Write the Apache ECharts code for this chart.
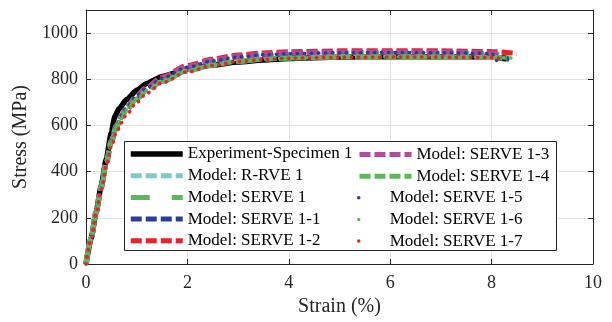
<!DOCTYPE html>
<html>
<head>
<meta charset="utf-8">
<script src="https://cdn.jsdelivr.net/npm/echarts@6/dist/echarts.min.js"></script>
<style>html,body{margin:0;padding:0;background:#fff}#c{width:612px;height:322px}</style>
</head>
<body>
<div id="c"></div>
<script>
// ---- data (strain in %, stress in MPa) ----
const xTicks = [0, 2, 4, 6, 8, 10];
const yTicks = [0, 200, 400, 600, 800, 1000];

const expStrain = [0, 0.1, 0.2, 0.3, 0.4, 0.5, 0.57, 0.65, 0.8, 1.0, 1.2, 1.5, 2.0, 2.5, 3.0, 3.5, 4.0, 5.0, 6.0, 7.0, 8.0, 8.3];
const expStress = [0, 110, 225, 340, 455, 570, 640, 672, 712, 752, 782, 812, 843, 862, 875, 884, 890, 896, 898, 898, 896, 888];

const modelStrain = [0, 0.1, 0.2, 0.3, 0.4, 0.5, 0.6, 0.7, 0.8, 1.0, 1.2, 1.5, 2.0, 2.5, 3.0, 3.5, 4.0, 5.0, 6.0, 7.0, 8.0];
const rrve1    = [0, 112, 224, 335, 440, 535, 600, 642, 676, 725, 760, 800, 846, 873, 890, 900, 906, 911, 912, 911, 908];
const serve1   = [0, 112, 224, 335, 440, 532, 595, 636, 668, 715, 750, 790, 836, 862, 878, 887, 892, 896, 897, 896, 894];
const serve1_1 = [0, 112, 224, 335, 440, 535, 600, 643, 678, 728, 764, 805, 852, 880, 897, 906, 911, 915, 916, 915, 912];
const serve1_2 = [0, 110, 220, 330, 432, 525, 590, 635, 672, 726, 765, 810, 860, 888, 905, 914, 919, 923, 924, 923, 920];
const serve1_3 = [0, 112, 224, 335, 440, 535, 600, 643, 679, 730, 767, 808, 855, 883, 900, 909, 914, 917, 918, 917, 914];
const serve1_4 = [0, 112, 224, 335, 440, 532, 595, 636, 668, 715, 750, 790, 836, 862, 878, 887, 892, 897, 898, 897, 895];
const serve1_5 = [0, 112, 224, 335, 440, 535, 600, 643, 678, 728, 764, 805, 852, 880, 897, 906, 911, 915, 916, 915, 912];
const serve1_6 = [0, 112, 224, 335, 440, 532, 595, 636, 668, 715, 750, 790, 836, 862, 878, 887, 892, 896, 897, 896, 894];
const serve1_7 = [0, 108, 216, 322, 425, 510, 570, 612, 648, 700, 740, 785, 832, 860, 877, 886, 891, 895, 896, 896, 894];
// final points of each model curve (strain, stress)
const modelEndStrain = [8.35, 8.4, 8.35, 8.5, 8.2, 8.3, 8.1, 8.5, 8.25];
const modelEndStress = [898, 890, 885, 912, 905, 892, 882, 892, 888];

const names = ['Experiment-Specimen 1', 'Model: R-RVE 1', 'Model: SERVE 1', 'Model: SERVE 1-1', 'Model: SERVE 1-2',
  'Model: SERVE 1-3', 'Model: SERVE 1-4', 'Model: SERVE 1-5', 'Model: SERVE 1-6', 'Model: SERVE 1-7'];
const modelStress = [rrve1, serve1, serve1_1, serve1_2, serve1_3, serve1_4, serve1_5, serve1_6, serve1_7];

// ---- styles ----
const colors = ['#000000', '#7ccaca', '#5cb85a', '#283f99', '#e82228', '#b04c9c', '#5cb85a', '#283f99', '#5cb85a', '#e82228'];
const lineTypes = ['solid', [11, 4], [19, 22], [11, 4], [11, 4], [11, 4], [11, 4], [0.5, 6.5], [0.5, 6.5], [0.5, 6.5]];
const widths = [5.5, 5, 5, 5, 5, 5, 5, 3.5, 3.5, 3.5];
const FONT = '"Liberation Serif", "Times New Roman", serif';

function pairs(xs, ys) { return xs.map((x, i) => [x, ys[i]]); }

const series = [];
series.push({
  name: names[0], type: 'line', data: pairs(expStrain, expStress),
  symbol: 'none', smooth: 0.2, smoothMonotone: 'x',
  lineStyle: { color: colors[0], width: widths[0], type: lineTypes[0] },
  itemStyle: { color: colors[0] }
});
modelStress.forEach((ys, k) => {
  const i = k + 1;
  const d = pairs(modelStrain, ys);
  d.push([modelEndStrain[k], modelEndStress[k]]);
  series.push({
    name: names[i], type: 'line', data: d, symbol: 'none', smooth: 0.3, smoothMonotone: 'x',
    lineStyle: { color: colors[i], width: widths[i], type: lineTypes[i], cap: i >= 7 ? 'round' : 'butt' },
    itemStyle: { color: colors[i] }
  });
});

const legendText = { fontFamily: FONT, fontSize: 17, color: '#000' };
const axisCol = '#262626';

const option = {
  animation: false,
  backgroundColor: '#fff',
  grid: { left: 86, right: 19, top: 10, bottom: 58, containLabel: false },
  xAxis: [{
    type: 'value', min: 0, max: 10, interval: 2,
    name: 'Strain (%)', nameLocation: 'middle', nameGap: 30,
    nameTextStyle: { fontFamily: FONT, fontSize: 20, color: axisCol },
    axisLine: { show: true, onZero: false, lineStyle: { color: axisCol, width: 1 } },
    axisTick: { show: true, inside: true, length: 5, lineStyle: { color: axisCol } },
    axisLabel: { fontFamily: FONT, fontSize: 18, color: axisCol, margin: 10,
      formatter: v => xTicks.indexOf(v) >= 0 ? String(v) : '' },
    splitLine: { show: true, lineStyle: { color: '#e3e3e3', width: 1 } }
  }, {
    type: 'value', min: 0, max: 10, interval: 2, position: 'top',
    axisLine: { show: true, onZero: false, lineStyle: { color: axisCol, width: 1 } },
    axisTick: { show: true, inside: true, length: 5, lineStyle: { color: axisCol } },
    axisLabel: { show: false }, splitLine: { show: false }
  }],
  yAxis: [{
    type: 'value', min: 0, max: 1100, interval: 200,
    name: 'Stress (MPa)', nameLocation: 'middle', nameGap: 47,
    nameTextStyle: { fontFamily: FONT, fontSize: 20, color: axisCol },
    axisLine: { show: true, onZero: false, lineStyle: { color: axisCol, width: 1 } },
    axisTick: { show: true, inside: true, length: 5, lineStyle: { color: axisCol } },
    axisLabel: { fontFamily: FONT, fontSize: 18, color: axisCol, margin: 8,
      formatter: v => yTicks.indexOf(v) >= 0 ? String(v) : '' },
    splitLine: { show: true, lineStyle: { color: '#e3e3e3', width: 1 } }
  }, {
    type: 'value', min: 0, max: 1100, interval: 200, position: 'right',
    axisLine: { show: true, onZero: false, lineStyle: { color: axisCol, width: 1 } },
    axisTick: { show: true, inside: true, length: 5, lineStyle: { color: axisCol } },
    axisLabel: { show: false }, splitLine: { show: false }
  }],
  graphic: [{
    type: 'rect', left: 124, top: 141, z: 3,
    shape: { width: 432, height: 109 },
    style: { fill: '#fff', stroke: '#262626', lineWidth: 1 }
  }],
  legend: [{
    orient: 'vertical', left: 128, top: 145.5, z: 5, selectedMode: false,
    itemWidth: 52, itemHeight: 14, itemGap: 4.7, padding: 0,
    data: names.slice(0, 5), textStyle: legendText,
    lineStyle: { width: 'inherit' }, itemStyle: { opacity: 0 }
  }, {
    orient: 'vertical', left: 357, top: 146, z: 5, selectedMode: false,
    itemWidth: 52, itemHeight: 14, itemGap: 4.7, padding: 0,
    data: names.slice(5, 7), textStyle: legendText,
    lineStyle: { width: 'inherit' }, itemStyle: { opacity: 0 }
  }, {
    orient: 'vertical', left: 357, top: 189.2, z: 5, selectedMode: false,
    itemWidth: 52, itemHeight: 3.5, itemGap: 4.7, padding: 0, icon: 'circle',
    data: names.slice(7, 10), textStyle: legendText
  }],
  series: series
};

const chart = echarts.init(document.getElementById('c'), null, { renderer: 'canvas' });
chart.setOption(option);
</script>
</body>
</html>
